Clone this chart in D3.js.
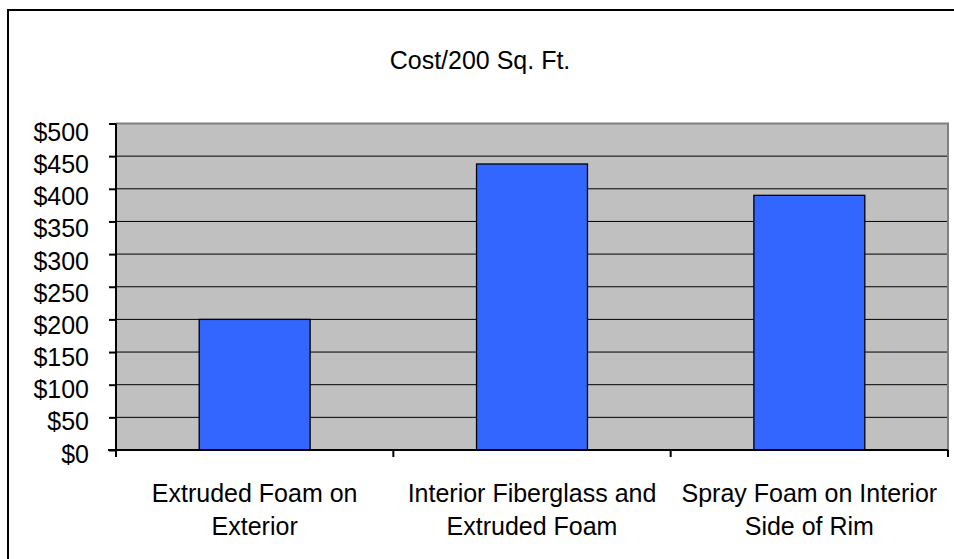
<!DOCTYPE html>
<html>
<head>
<meta charset="utf-8">
<script src="https://cdn.jsdelivr.net/npm/d3@7"></script>
<style>
  html, body { margin: 0; padding: 0; background: #fff; }
  svg { display: block; }
  text { font-family: "Liberation Sans", Arial, sans-serif; fill: #000; }
</style>
</head>
<body>
<svg id="chart" width="954" height="559"></svg>
<script>
// Cost comparison of rim-joist insulation methods
const categories = [
  ["Extruded Foam on", "Exterior"],
  ["Interior Fiberglass and", "Extruded Foam"],
  ["Spray Foam on Interior", "Side of Rim"]
];
const costs = [200, 438, 390];
const yTicks = [0, 50, 100, 150, 200, 250, 300, 350, 400, 450, 500];
const titleText = "Cost/200 Sq. Ft.";

const svg = d3.select("#chart");
const W = 954, H = 559;
const FS = 25;
const plot = { left: 116, right: 948, top: 123.5, bottom: 450 };

// outer chart frame (runs off the right and bottom edges)
svg.append("rect")
  .attr("x", 8).attr("y", 10)
  .attr("width", W + 10).attr("height", H + 10)
  .attr("fill", "#fff").attr("stroke", "#000").attr("stroke-width", 2);

const ids = categories.map((c, i) => i);
const x = d3.scaleBand().domain(ids).range([plot.left, plot.right]).padding(0);
const xBar = d3.scaleBand().domain(ids).range([plot.left, plot.right])
  .paddingInner(0.6).paddingOuter(0.3);
const y = d3.scaleLinear().domain([0, 500]).range([plot.bottom, plot.top]);

// plot background
svg.append("rect")
  .attr("x", plot.left).attr("y", plot.top)
  .attr("width", plot.right - plot.left).attr("height", plot.bottom - plot.top)
  .attr("fill", "#c0c0c0");

// horizontal gridlines
svg.append("g").selectAll("line")
  .data(yTicks.filter(v => v > 0 && v < 500))
  .join("line")
  .attr("x1", plot.left).attr("x2", plot.right)
  .attr("y1", d => y(d)).attr("y2", d => y(d))
  .attr("stroke", "#000").attr("stroke-width", 1);

// plot border (top and right)
svg.append("path")
  .attr("d", `M${plot.left},${plot.top}H${plot.right}V${plot.bottom}`)
  .attr("fill", "none").attr("stroke", "#808080").attr("stroke-width", 2);

// bars
svg.append("g").selectAll("rect")
  .data(costs)
  .join("rect")
  .attr("x", (d, i) => xBar(i))
  .attr("y", d => y(d))
  .attr("width", xBar.bandwidth())
  .attr("height", d => y(0) - y(d))
  .attr("fill", "#3366ff")
  .attr("stroke", "#000").attr("stroke-width", 1.3);

// y axis
const yAxis = d3.axisLeft(y).tickValues(yTicks).tickSize(7)
  .tickFormat(d => "$" + d);
const gy = svg.append("g").attr("transform", `translate(${plot.left},0)`).call(yAxis);
gy.select(".domain").attr("stroke", "#000").attr("stroke-width", 2)
  .attr("d", `M0,${plot.top}V${plot.bottom}`);
gy.selectAll(".tick line").attr("stroke", "#000").attr("stroke-width", 2);
gy.selectAll(".tick text")
  .attr("x", -27).attr("dy", null)
  .style("font-size", FS + "px")
  .style("font-family", "'Liberation Sans', Arial, sans-serif")
  .attr("fill", "#000")
  // labels sit a little below their gridline, more so towards the top
  .attr("y", d => 12 + 5 * (d / 500));

// x axis
const gx = svg.append("g").attr("transform", `translate(0,${plot.bottom})`);
gx.append("line")
  .attr("x1", plot.left - 8).attr("x2", plot.right)
  .attr("stroke", "#000").attr("stroke-width", 2);
const xTickPos = ids.map(i => x(i)).concat([plot.right]);
gx.selectAll("line.tick")
  .data(xTickPos)
  .join("line").attr("class", "tick")
  .attr("x1", d => d).attr("x2", d => d)
  .attr("y1", 0).attr("y2", 7)
  .attr("stroke", "#000").attr("stroke-width", 2);

// category labels (two lines each)
const lbl = svg.append("g").selectAll("text")
  .data(categories)
  .join("text")
  .attr("x", (d, i) => x(i) + x.bandwidth() / 2)
  .attr("y", 502)
  .attr("text-anchor", "middle")
  .style("font-size", FS + "px");
lbl.each(function(d) {
  const t = d3.select(this);
  d.forEach((line, k) => {
    t.append("tspan")
      .attr("x", t.attr("x"))
      .attr("dy", k === 0 ? 0 : 33)
      .text(line);
  });
});

// title
svg.append("text")
  .attr("x", 480).attr("y", 69)
  .attr("text-anchor", "middle")
  .style("font-size", FS + "px")
  .text(titleText);
</script>
</body>
</html>
